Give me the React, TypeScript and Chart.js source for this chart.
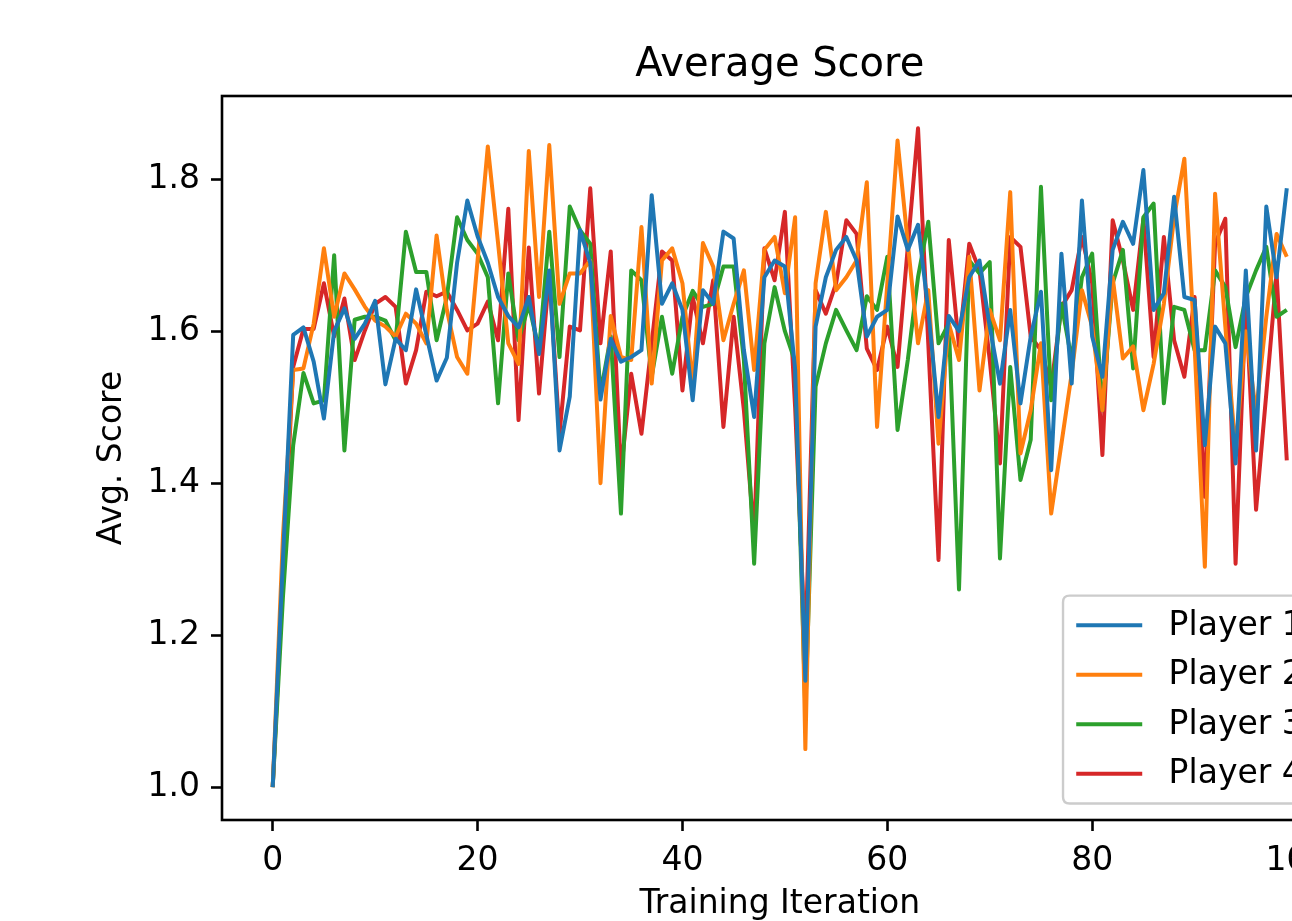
import { useEffect, useRef } from "react";
import { Chart, registerables } from "chart.js";

Chart.register(...registerables);

const iterations: number[] = Array.from({ length: 100 }, (_, i) => i);

const player1 = [
  1.0, 1.3, 1.595, 1.605, 1.56, 1.485, 1.6, 1.63, 1.59, 1.61,
  1.64, 1.53, 1.59, 1.575, 1.655, 1.595, 1.535, 1.565, 1.69, 1.772,
  1.725, 1.69, 1.645, 1.62, 1.605, 1.645, 1.57, 1.68, 1.443, 1.514,
  1.733, 1.69, 1.51, 1.59, 1.56, 1.566, 1.575, 1.779, 1.636, 1.663,
  1.628, 1.509, 1.654, 1.636, 1.731, 1.722, 1.575, 1.487, 1.671, 1.693,
  1.685, 1.55, 1.14, 1.606, 1.671, 1.707, 1.724, 1.693, 1.593, 1.619,
  1.628, 1.751, 1.707, 1.74, 1.628, 1.487, 1.62, 1.6, 1.671, 1.693,
  1.606, 1.531, 1.628, 1.505, 1.593, 1.652, 1.417, 1.702, 1.531, 1.772,
  1.593, 1.54, 1.707, 1.744, 1.715, 1.812, 1.628, 1.65, 1.777, 1.645,
  1.641, 1.45, 1.606, 1.584, 1.426, 1.68, 1.443, 1.764, 1.671, 1.788,
];

const player2 = [
  1.0, 1.33, 1.549, 1.551, 1.61, 1.709, 1.619, 1.676, 1.655, 1.632,
  1.614, 1.606, 1.593, 1.623, 1.61, 1.584, 1.726, 1.628, 1.566, 1.544,
  1.693, 1.843, 1.716, 1.584, 1.557, 1.837, 1.645, 1.845, 1.636, 1.676,
  1.676, 1.693, 1.4, 1.62, 1.566, 1.562, 1.737, 1.531, 1.693, 1.709,
  1.663, 1.529, 1.716, 1.685, 1.588, 1.636, 1.68, 1.549, 1.707, 1.724,
  1.65, 1.75, 1.05, 1.663, 1.757, 1.654, 1.671, 1.693, 1.796, 1.474,
  1.663, 1.851, 1.716, 1.584, 1.654, 1.452, 1.61, 1.562, 1.698, 1.522,
  1.628, 1.588, 1.783, 1.439, 1.496, 1.584, 1.36, 1.452, 1.544, 1.654,
  1.606, 1.496, 1.671, 1.564, 1.58, 1.496, 1.557, 1.636, 1.75, 1.827,
  1.58, 1.29, 1.781, 1.606, 1.443, 1.6, 1.492, 1.619, 1.728, 1.698,
];

const player3 = [
  1.0, 1.25, 1.45, 1.545, 1.505, 1.509, 1.7, 1.443, 1.615, 1.619,
  1.619, 1.614, 1.588, 1.731, 1.678, 1.678, 1.588, 1.645, 1.75, 1.72,
  1.702, 1.671, 1.505, 1.676, 1.588, 1.635, 1.575, 1.731, 1.566, 1.764,
  1.733, 1.715, 1.518, 1.593, 1.36, 1.68, 1.667, 1.54, 1.619, 1.544,
  1.619, 1.653, 1.632, 1.636, 1.685, 1.685, 1.562, 1.294, 1.584, 1.658,
  1.6, 1.56, 1.1, 1.527, 1.584, 1.628, 1.601, 1.575, 1.646, 1.628,
  1.698, 1.47, 1.562, 1.671, 1.744, 1.584, 1.61, 1.26, 1.693, 1.676,
  1.691, 1.301, 1.553, 1.404, 1.457, 1.79, 1.509, 1.636, 1.562, 1.671,
  1.702, 1.496, 1.663, 1.707, 1.551, 1.75, 1.768, 1.505, 1.632, 1.628,
  1.575, 1.575, 1.68, 1.658, 1.579, 1.645, 1.68, 1.711, 1.619, 1.628,
];

const player4 = [
  1.0, 1.28, 1.553, 1.603, 1.603, 1.663, 1.593, 1.643, 1.562, 1.601,
  1.636, 1.645, 1.632, 1.531, 1.575, 1.652, 1.646, 1.652, 1.628, 1.601,
  1.61, 1.639, 1.588, 1.761, 1.483, 1.71, 1.518, 1.676, 1.465, 1.606,
  1.601, 1.788, 1.584, 1.705, 1.415, 1.544, 1.465, 1.584, 1.705, 1.693,
  1.522, 1.645, 1.584, 1.667, 1.474, 1.619, 1.496, 1.33, 1.709, 1.667,
  1.757, 1.5, 1.18, 1.654, 1.623, 1.663, 1.746, 1.728, 1.577, 1.549,
  1.606, 1.553, 1.711, 1.867, 1.584, 1.299, 1.72, 1.58, 1.715, 1.68,
  1.562, 1.426, 1.724, 1.711, 1.593, 1.575, 1.527, 1.632, 1.654, 1.724,
  1.663, 1.437, 1.746, 1.693, 1.628, 1.748, 1.566, 1.724, 1.588, 1.54,
  1.645, 1.382, 1.715, 1.748, 1.294, 1.641, 1.365, 1.518, 1.676, 1.43,
];

const seriesNames = ["Player 1", "Player 2", "Player 3", "Player 4"];
const seriesColors = ["#1f77b4", "#ff7f0e", "#2ca02c", "#d62728"];
const xTicks = [0, 20, 40, 60, 80, 100];
const yTicks = [1.0, 1.2, 1.4, 1.6, 1.8];

const FONT = '"DejaVu Sans", "Liberation Sans", sans-serif';
const LINE_W = 4;

export default function App() {
  const ref = useRef<HTMLCanvasElement>(null);

  useEffect(() => {
    const canvas = ref.current;
    if (!canvas) return;
    const series = [player1, player2, player3, player4];

    const frame = {
      id: "frame",
      afterDatasetsDraw(chart: any) {
        const { ctx, chartArea } = chart;
        const { left, top, right, bottom } = chartArea;
        ctx.save();
        ctx.strokeStyle = "#000";
        ctx.lineWidth = 2.6;
        ctx.strokeRect(left, top, right - left, bottom - top);
        ctx.restore();
      },
    };

    const mplLegend = {
      id: "mplLegend",
      afterDraw(chart: any) {
        const { ctx, chartArea } = chart;
        const fs = 33;
        const pad = 13.2;
        const handleLen = 66;
        const handlePad = 26.4;
        const rowH = 33;
        const spacing = 16.5;
        const axPad = 16.5;
        ctx.save();
        ctx.font = `${fs}px ${FONT}`;
        const names = chart.data.datasets.map((d: any) => d.label as string);
        const tw = Math.max(...names.map((n: string) => ctx.measureText(n).width));
        const w = pad * 2 + handleLen + handlePad + tw + 5;
        const h = pad * 2 + names.length * rowH + (names.length - 1) * spacing;
        const right = chartArea.right - axPad;
        const bottom = chartArea.bottom - axPad;
        const left = right - w;
        const top = bottom - h;
        const r = 6.6;
        ctx.beginPath();
        ctx.moveTo(left + r, top);
        ctx.lineTo(right - r, top);
        ctx.quadraticCurveTo(right, top, right, top + r);
        ctx.lineTo(right, bottom - r);
        ctx.quadraticCurveTo(right, bottom, right - r, bottom);
        ctx.lineTo(left + r, bottom);
        ctx.quadraticCurveTo(left, bottom, left, bottom - r);
        ctx.lineTo(left, top + r);
        ctx.quadraticCurveTo(left, top, left + r, top);
        ctx.closePath();
        ctx.fillStyle = "rgba(255,255,255,0.8)";
        ctx.fill();
        ctx.strokeStyle = "#cccccc";
        ctx.lineWidth = 2.4;
        ctx.stroke();
        chart.data.datasets.forEach((d: any, i: number) => {
          const cy = top + pad + rowH / 2 + i * (rowH + spacing);
          ctx.beginPath();
          ctx.moveTo(left + pad, cy);
          ctx.lineTo(left + pad + handleLen, cy);
          ctx.strokeStyle = d.borderColor;
          ctx.lineWidth = LINE_W;
          ctx.stroke();
          ctx.fillStyle = "#000";
          ctx.textBaseline = "middle";
          ctx.textAlign = "left";
          ctx.fillText(d.label, left + pad + handleLen + handlePad, cy + 1);
        });
        ctx.restore();
      },
    };

    const tickGrid = {
      drawOnChartArea: false,
      drawTicks: true,
      tickLength: 11,
      tickColor: "#000",
      tickWidth: 2.6,
    };

    const chart = new Chart(canvas, {
      type: "line",
      data: {
        datasets: series.map((s, k) => ({
          label: seriesNames[k],
          data: iterations.map((x, i) => ({ x, y: s[i] })),
          borderColor: seriesColors[k],
          backgroundColor: seriesColors[k],
          borderWidth: LINE_W,
          borderJoinStyle: "round" as const,
          pointRadius: 0,
          fill: false,
          tension: 0,
        })),
      },
      options: {
        responsive: false,
        animation: false,
        devicePixelRatio: 1,
        layout: { padding: { left: 0, top: 0, right: 22.5, bottom: 0 } },
        plugins: {
          legend: { display: false },
          tooltip: { enabled: false },
          title: {
            display: true,
            fullSize: false,
            text: "Average Score",
            color: "#000",
            font: { family: FONT, size: 40, weight: "normal", lineHeight: 1.2 },
            padding: { top: 42, bottom: 6 },
          },
        },
        scales: {
          x: {
            type: "linear",
            min: -4.95,
            max: 103.95,
            afterBuildTicks: (s: any) => {
              s.ticks = xTicks.map((v) => ({ value: v }));
            },
            afterFit: (s: any) => {
              s.height = 101;
            },
            grid: tickGrid,
            border: { display: false },
            ticks: {
              color: "#000",
              font: { family: FONT, size: 33 },
              padding: 11,
              maxRotation: 0,
              autoSkip: false,
              callback: (v: any) => String(v),
            },
            title: {
              display: true,
              text: "Training Iteration",
              color: "#000",
              font: { family: FONT, size: 33, lineHeight: 1 },
              padding: { top: 0, bottom: 0 },
            },
          },
          y: {
            type: "linear",
            min: 0.9567,
            max: 1.9095,
            afterBuildTicks: (s: any) => {
              s.ticks = yTicks.map((v) => ({ value: v }));
            },
            afterFit: (s: any) => {
              s.width = 222;
            },
            grid: tickGrid,
            border: { display: false },
            ticks: {
              color: "#000",
              font: { family: FONT, size: 33 },
              padding: 11,
              autoSkip: false,
              callback: (v: any) => Number(v).toFixed(1),
            },
            title: {
              display: true,
              text: "Avg. Score",
              color: "#000",
              font: { family: FONT, size: 33, lineHeight: 1 },
              padding: { top: 95.5, bottom: 0 },
            },
          },
        },
      } as any,
      plugins: [frame, mplLegend],
    });

    return () => chart.destroy();
  }, []);

  return (
    <div
      style={{
        position: "absolute",
        left: 0,
        top: 0,
        width: 1292,
        height: 921,
        overflow: "hidden",
        background: "#fff",
      }}
    >
      <canvas
        ref={ref}
        width={1360}
        height={921}
        style={{ display: "block", width: 1360, height: 921 }}
      />
    </div>
  );
}
